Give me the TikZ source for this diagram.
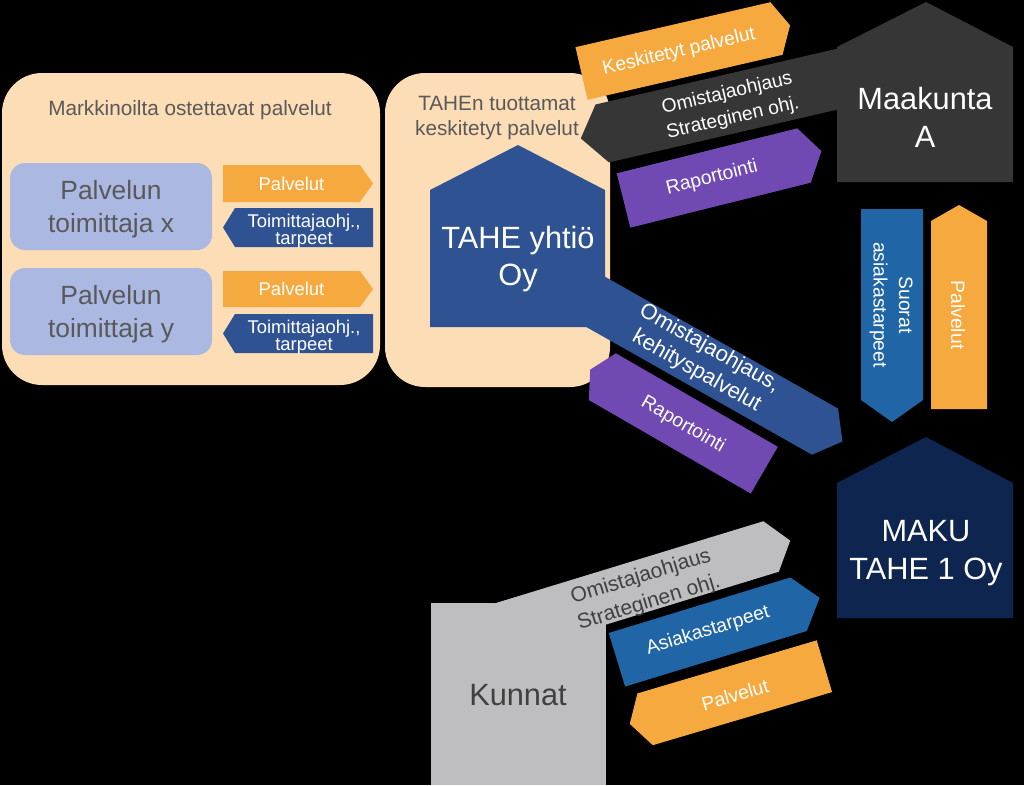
\documentclass[tikz,border=0pt]{standalone}
\usepackage{fontspec}
\setmainfont{Liberation Sans}
\usepackage{xcolor}
\usepackage{tikz}
\definecolor{peach}{HTML}{FCDDB5}
\definecolor{lavender}{HTML}{AAB8E2}
\definecolor{orangeband}{HTML}{F6A93F}
\definecolor{navyband}{HTML}{2F5293}
\definecolor{darkband}{HTML}{363636}
\definecolor{purpleband}{HTML}{7149B3}
\definecolor{blueband}{HTML}{2066A6}
\definecolor{makunavy}{HTML}{0E2550}
\definecolor{kunnatgrey}{HTML}{BEBEC1}
\definecolor{greytext}{HTML}{595959}
\definecolor{darktext}{HTML}{404040}
% arrow band: centre, angle, half length, half width, tip ahead, tip behind, colour
\newcommand{\arrowband}[7]{%
  \fill[#7, shift={#1}, rotate=#2] (-#3,-#4) -- (#3,-#4) -- ({#3+#5},0)
    -- (#3,#4) -- (-#3,#4) -- ({-#3-#6},0) -- cycle;}
\tikzset{
  bandtext/.style={text=white, align=center, inner sep=0pt,
    font=\fontsize{11}{14.5}\selectfont},
  smalltext/.style={text=white, align=center, inner sep=0pt,
    font=\fontsize{10.5}{9.8}\selectfont},
  bigtext/.style={text=white, align=center, inner sep=0pt,
    font=\fontsize{17.5}{21.5}\selectfont},
  headtext/.style={text=greytext, align=center, inner sep=0pt,
    font=\fontsize{11.8}{14}\selectfont},
  suppliertext/.style={text=greytext, align=center, inner sep=0pt,
    font=\fontsize{15}{19}\selectfont},
}

\begin{document}
\begin{tikzpicture}[x=0.02cm, y=-0.02cm]
  \useasboundingbox (0,0) rectangle (1024,785);
  \fill[black] (0,0) rectangle (1024,785);
  % Markkinoilta ostettavat palvelut
  \fill[peach, rounded corners=0.8cm] (2,73) rectangle (380,385);
  \node[headtext] (markt) at (190,110) {Markkinoilta ostettavat palvelut};
  \fill[lavender, rounded corners=0.3cm] (10,163) rectangle (212,250);
  \node[suppliertext] (suppx) at (111,209) {Palvelun\\toimittaja x};
  \fill[lavender, rounded corners=0.3cm] (10,268) rectangle (212,355);
  \node[suppliertext] (suppy) at (111,314) {Palvelun\\toimittaja y};
  \arrowband{(291.5,183.5)}{0}{68.5}{18.5}{13}{0}{orangeband}
  \node[smalltext] (palvx) at (291.5,183.5) {Palvelut};
  \arrowband{(304,227.5)}{0}{69}{19.5}{0}{12}{navyband}
  \node[smalltext] (ohjx) at (304,231) {Toimittajaohj.,\\tarpeet};
  \arrowband{(291.5,289)}{0}{68.5}{18}{13}{0}{orangeband}
  \node[smalltext] (palvy) at (291.5,289) {Palvelut};
  \arrowband{(304,333.5)}{0}{69}{19.5}{0}{12}{navyband}
  \node[smalltext] (ohjy) at (304,337) {Toimittajaohj.,\\tarpeet};
  % TAHEn tuottamat palvelut
  \fill[peach, rounded corners=0.8cm] (385,73) rectangle (610,387);
  \node[headtext] (tahetitle) at (497,118) {TAHEn tuottamat\\keskitetyt palvelut};
  \fill[navyband] (430,327) -- (430,190) -- (518,145) -- (605,190)
    -- (605,327) -- cycle;
  \arrowband{(663.6,340.3)}{-29.5}{185.5}{26.5}{20}{0}{navyband}
  \node[bigtext] (tahe) at (518,259) {TAHE yhtiö\\Oy};
  \node[bandtext, font=\fontsize{12.5}{15}\selectfont, rotate=-29.5]
    (omkeh) at (703,360) {Omistajaohjaus,\\kehityspalvelut};
  \arrowband{(683.3,423.4)}{-30}{93.5}{27}{0}{14}{purpleband}
  \node[bandtext, rotate=-30] (rapB) at (683,425) {Raportointi};
  % Maakunta A
  \arrowband{(679,51)}{13}{100}{27}{14}{0}{orangeband}
  \node[bandtext, rotate=13] (kesk) at (679,52) {Keskitetyt palvelut};
  \arrowband{(740.1,101.6)}{13}{141.5}{29.7}{0}{22}{darkband}
  \fill[darkband] (837,182) -- (837,47) -- (926,2) -- (1013,47)
    -- (1013,182) -- cycle;
  \node[bandtext, rotate=13] (omA) at (730,106) {Omistajaohjaus\\Strateginen ohj.};
  \node[bigtext] (maakunta) at (925,117) {Maakunta\\A};
  \arrowband{(713.75,178)}{14}{93}{28}{18}{0}{purpleband}
  \node[bandtext, rotate=14] (rapA) at (712,178) {Raportointi};
  \arrowband{(892,304.5)}{-90}{95.5}{31}{22}{0}{blueband}
  \node[bandtext, rotate=-90] (suorat) at (891,305) {Suorat\\asiakastarpeet};
  \arrowband{(959,315)}{-90}{94}{28}{0}{16}{orangeband}
  \node[bandtext, rotate=-90] (palvA) at (958,315) {Palvelut};
  % MAKU TAHE 1 Oy
  \fill[makunavy] (837,618) -- (837,483) -- (926,437) -- (1013,483)
    -- (1013,618) -- cycle;
  \node[bigtext] (maku) at (926,553) {MAKU\\TAHE 1 Oy};
  % Kunnat
  \fill[kunnatgrey] (431,603) rectangle (606,785);
  \arrowband{(631,589.3)}{17}{146.5}{26.4}{20}{0}{kunnatgrey}
  \node[bigtext, text=darktext] (kunnat) at (518,695) {Kunnat};
  \node[bandtext, text=darktext, font=\fontsize{12}{15.5}\selectfont, rotate=17]
    (omK) at (645,590) {Omistajaohjaus\\Strateginen ohj.};
  \arrowband{(707.75,632)}{17}{95}{28}{22}{0}{blueband}
  \node[bandtext, rotate=17] (asiak) at (708,631) {Asiakastarpeet};
  \arrowband{(734.75,692.75)}{16.5}{93.5}{27}{0}{16}{orangeband}
  \node[bandtext, rotate=16.5] (palvK) at (735,695) {Palvelut};
\end{tikzpicture}
\end{document}
